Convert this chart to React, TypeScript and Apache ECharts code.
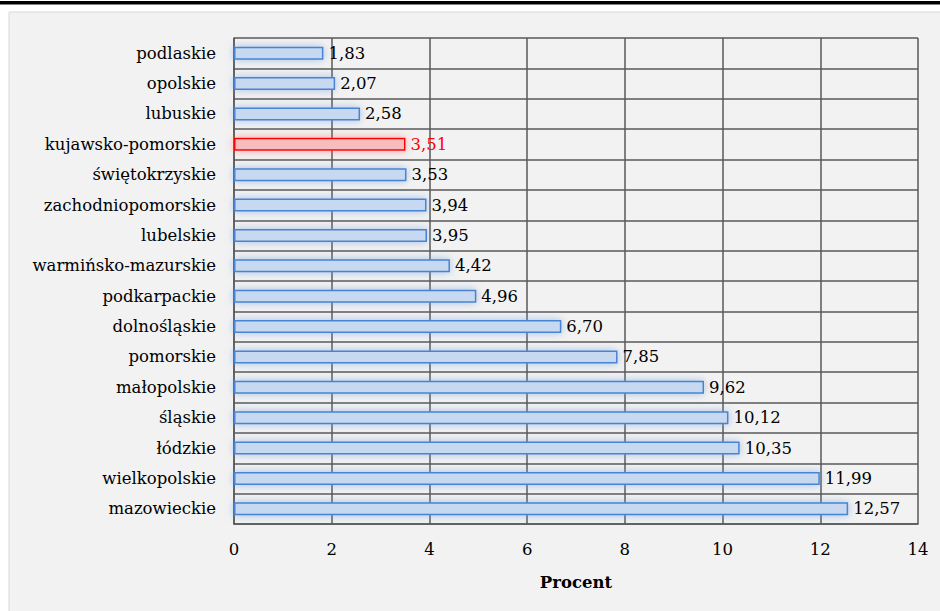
import React, { useEffect, useRef } from "react";
import * as echarts from "echarts";

// Voivodeships, top to bottom
const regions = [
  "podlaskie",
  "opolskie",
  "lubuskie",
  "kujawsko-pomorskie",
  "świętokrzyskie",
  "zachodniopomorskie",
  "lubelskie",
  "warmińsko-mazurskie",
  "podkarpackie",
  "dolnośląskie",
  "pomorskie",
  "małopolskie",
  "śląskie",
  "łódzkie",
  "wielkopolskie",
  "mazowieckie",
];

// Share in percent
const shares = [
  1.83, 2.07, 2.58, 3.51, 3.53, 3.94, 3.95, 4.42, 4.96, 6.7, 7.85, 9.62, 10.12,
  10.35, 11.99, 12.57,
];

const highlighted = "kujawsko-pomorskie";
const axisTitle = "Procent";

const FONT = "DejaVu Serif";
const SIZE = 16.5;

export default function App() {
  const ref = useRef<HTMLDivElement>(null);

  useEffect(() => {
    if (!ref.current) return;
    const chart = echarts.init(ref.current, null, { renderer: "svg" });

    const data = regions.map((name, i) => {
      const hi = name === highlighted;
      return {
        value: shares[i],
        itemStyle: hi
          ? {
              color: "#f7bcbc",
              borderColor: "#ff0000",
              borderWidth: 1.5,
              shadowBlur: 9,
              shadowColor: "rgba(255,90,90,0.55)",
            }
          : {
              color: "#c6d9f1",
              borderColor: "#4a84d2",
              borderWidth: 1.5,
              shadowBlur: 9,
              shadowColor: "rgba(110,155,220,0.6)",
            },
        label: hi ? { color: "#ff0000" } : {},
      };
    });

    chart.setOption({
      animation: false,
      backgroundColor: "#ffffff",
      graphic: [
        {
          type: "rect",
          shape: { x: 9, y: 12, width: 940, height: 610 },
          style: { fill: "#f2f2f2", stroke: "#d9d9d9", lineWidth: 1 },
          z: -10,
          silent: true,
        },
        {
          type: "rect",
          shape: { x: 0, y: 1, width: 940, height: 3.5 },
          style: { fill: "#000000" },
          silent: true,
        },
      ],
      grid: { left: 234, top: 38, width: 684, height: 486, containLabel: false },
      xAxis: {
        type: "value",
        min: 0,
        max: 14,
        interval: 2,
        name: axisTitle,
        nameLocation: "middle",
        nameGap: 50,
        nameTextStyle: {
          fontFamily: FONT,
          fontSize: SIZE,
          fontWeight: "bold",
          color: "#000",
        },
        axisLine: { show: true, lineStyle: { color: "#595959", width: 1.5 } },
        axisTick: { show: false },
        axisLabel: {
          margin: 17,
          fontFamily: FONT,
          fontSize: SIZE,
          color: "#000",
        },
        splitLine: { show: true, lineStyle: { color: "#595959", width: 1.5 } },
      },
      yAxis: {
        type: "category",
        data: regions,
        inverse: true,
        axisLine: { show: true, lineStyle: { color: "#595959", width: 1.5 } },
        axisTick: { show: false },
        axisLabel: {
          margin: 18,
          fontFamily: FONT,
          fontSize: SIZE,
          color: "#000",
        },
        splitLine: { show: true, lineStyle: { color: "#595959", width: 1.5 } },
      },
      series: [
        {
          type: "bar",
          data,
          barWidth: 13,
          label: {
            show: true,
            position: "right",
            distance: 5,
            fontFamily: FONT,
            fontSize: SIZE,
            color: "#000",
            formatter: (p: any) => p.value.toFixed(2).replace(".", ","),
          },
        },
      ],
    });

    return () => chart.dispose();
  }, []);

  return (
    <div
      ref={ref}
      style={{ position: "absolute", left: 0, top: 0, width: 940, height: 611 }}
    />
  );
}
